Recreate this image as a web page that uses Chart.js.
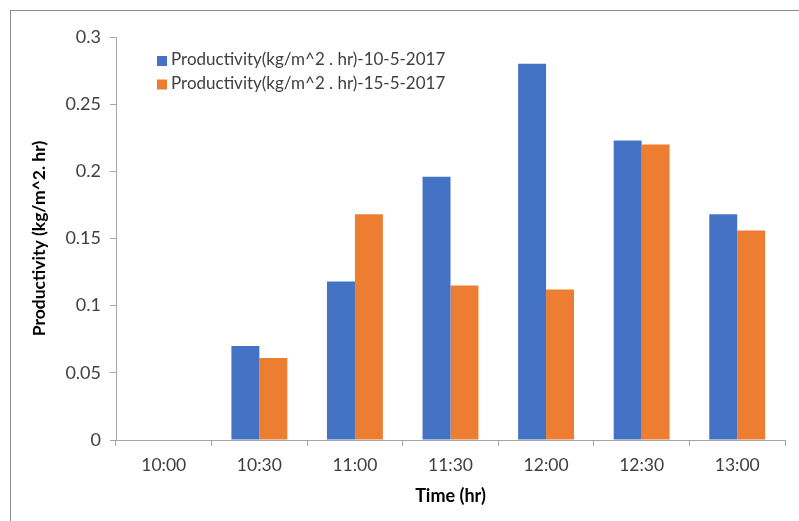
<!DOCTYPE html>
<html>
<head>
<meta charset="utf-8">
<script src="https://cdn.jsdelivr.net/npm/chart.js@4"></script>
<style>
  body { margin: 0; background: #fff; }
  #wrap { position: relative; width: 799px; height: 521px; overflow: hidden; }
  #frame { position: absolute; left: 10px; top: 10px; width: 900px; height: 600px;
           border-left: 1px solid #8c8c8c; border-top: 1px solid #8c8c8c; }
  canvas { position: absolute; left: 0; top: 0; }
</style>
</head>
<body>
<div id="wrap">
  <div id="frame"></div>
  <canvas id="resultChart" width="799" height="521"></canvas>
</div>
<script>
// datos
const horas = ["10:00", "10:30", "11:00", "11:30", "12:00", "12:30", "13:00"];
const prod_10_5 = [0, 0.07, 0.118, 0.196, 0.28, 0.223, 0.168];
const prod_15_5 = [0, 0.061, 0.168, 0.115, 0.112, 0.22, 0.156];
const ticksY = [0, 0.05, 0.1, 0.15, 0.2, 0.25, 0.3];

const fuente = "Lato, 'Liberation Sans', sans-serif";
const gris = "#a6a6a6";

// leyenda dentro del area del grafico
const leyendaInterna = {
  id: "leyendaInterna",
  afterDraw(chart) {
    const ctx = chart.ctx;
    ctx.save();
    ctx.font = "17px " + fuente;
    ctx.textBaseline = "middle";
    chart.data.datasets.forEach((ds, i) => {
      const y = 61 + i * 23.5;
      ctx.fillStyle = ds.backgroundColor;
      ctx.fillRect(157, y - 5, 10, 10);
      ctx.fillStyle = "#404040";
      ctx.fillText(ds.label, 171, y - 1);
    });
    ctx.restore();
  }
};

const ctx = document.getElementById("resultChart").getContext("2d");
new Chart(ctx, {
  type: "bar",
  data: {
    labels: horas,
    datasets: [
      { label: "Productivity(kg/m^2 . hr)-10-5-2017", data: prod_10_5, backgroundColor: "#4472c4" },
      { label: "Productivity(kg/m^2 . hr)-15-5-2017", data: prod_15_5, backgroundColor: "#ed7d31" }
    ]
  },
  options: {
    responsive: false,
    animation: false,
    categoryPercentage: 0.585,
    barPercentage: 1.0,
    layout: { padding: { top: 37, right: 14, left: 0, bottom: 0 } },
    plugins: { legend: { display: false }, tooltip: { enabled: false } },
    scales: {
      x: {
        grid: { drawOnChartArea: false, color: gris, tickLength: 6 },
        border: { color: gris },
        ticks: { color: "#404040", font: { family: fuente, size: 17.5 }, padding: 9 },
        title: { display: true, text: "Time (hr)", color: "#000", font: { family: fuente, size: 18, weight: "bold" }, padding: { top: 0, bottom: 14 } },
        afterFit(scale) { scale.height = 81; }
      },
      y: {
        min: 0, max: 0.3,
        afterBuildTicks(scale) { scale.ticks = ticksY.map(v => ({ value: v })); },
        grid: { drawOnChartArea: false, color: gris, tickLength: 6 },
        border: { color: gris },
        ticks: {
          color: "#404040", font: { family: fuente, size: 18 }, padding: 9,
          callback: v => String(Math.round(v * 100) / 100)
        },
        title: { display: true, text: "Productivity (kg/m^2. hr)", color: "#000", font: { family: fuente, size: 17.5, weight: "bold" }, padding: { top: 29, bottom: 0 } },
        afterFit(scale) { scale.width = 116; }
      }
    }
  },
  plugins: [leyendaInterna]
});
</script>
</body>
</html>
